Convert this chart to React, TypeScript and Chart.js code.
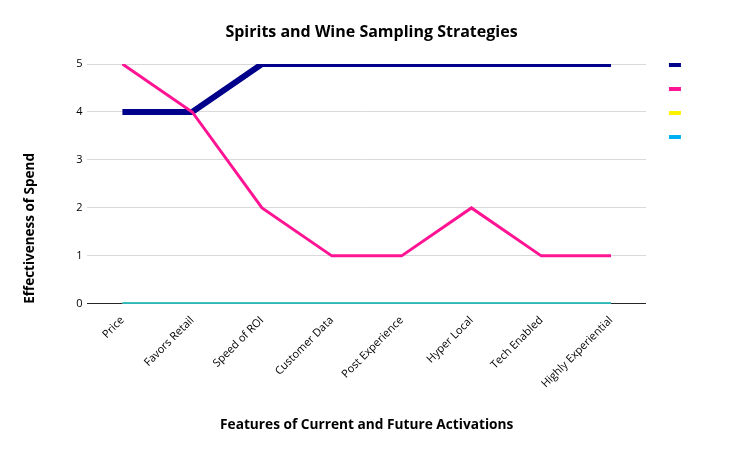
import React, { useEffect, useRef } from "react";
import { Chart, registerables } from "chart.js";

Chart.register(...registerables);

const categories = [
  "Price",
  "Favors Retail",
  "Speed of ROI",
  "Customer Data",
  "Post Experience",
  "Hyper Local",
  "Tech Enabled",
  "Highly Experiential",
];
const seriesNavy = [4, 4, 5, 5, 5, 5, 5, 5];
const seriesPink = [5, 4, 2, 1, 1, 2, 1, 1];
const seriesYellow = [0, 0, 0, 0, 0, 0, 0, 0];
const seriesCyan = [0, 0, 0, 0, 0, 0, 0, 0];
const yTicks = [0, 1, 2, 3, 4, 5];

const FONT = "'Open Sans', 'Liberation Sans', sans-serif";
const LEGEND_TEXT = "         ";

export default function App() {
  const ref = useRef<HTMLCanvasElement | null>(null);
  useEffect(() => {
    if (!ref.current) return;
    const chart = new Chart(ref.current, {
      type: "line",
      data: {
        labels: categories,
        datasets: [
          { label: "", data: seriesNavy, borderColor: "#00008B", backgroundColor: "#00008B", borderWidth: 6, order: 4, yAxisID: "y" },
          { label: "", data: seriesPink, borderColor: "#FF1493", backgroundColor: "#FF1493", borderWidth: 3, order: 3, yAxisID: "y" },
          { label: "", data: seriesYellow, borderColor: "#FFF200", backgroundColor: "#FFF200", borderWidth: 3, order: 2, yAxisID: "y" },
          { label: "", data: seriesCyan, borderColor: "#00B0F0", backgroundColor: "#00B0F0", borderWidth: 3, order: 1, yAxisID: "y" },
        ],
      },
      options: {
        animation: false,
        responsive: false,
        maintainAspectRatio: false,
        elements: {
          point: { radius: 0, hoverRadius: 0 },
          line: { tension: 0, borderCapStyle: "butt", borderJoinStyle: "miter" },
        },
        layout: { padding: { left: 18, right: 12, top: 0, bottom: 23 } },
        plugins: {
          title: {
            display: true,
            text: "Spirits and Wine Sampling Strategies",
            color: "#000",
            font: { family: FONT, size: 16, weight: "bold" },
            padding: { top: 22.4, bottom: 22.4 },
          },
          legend: {
            display: true,
            position: "right",
            align: "start",
            title: { display: true, text: "", font: { size: 10, lineHeight: 1 }, padding: { top: 37, bottom: 0 } },
            labels: {
              boxWidth: 12,
              boxHeight: 4,
              padding: 12,
              color: "#000",
              font: { family: FONT, size: 12 },
              sort: (a: any, b: any) => a.datasetIndex - b.datasetIndex,
              generateLabels: (c: any) =>
                c.data.datasets.map((d: any, i: number) => ({
                  text: LEGEND_TEXT,
                  fillStyle: d.borderColor,
                  strokeStyle: d.borderColor,
                  lineWidth: 0,
                  datasetIndex: i,
                  hidden: false,
                })),
            },
          },
          tooltip: { enabled: false },
        },
        scales: {
          x: {
            offset: true,
            grid: { display: false },
            border: { display: true, color: "#262626", width: 1 },
            ticks: {
              color: "#000",
              font: { family: FONT, size: 11 },
              minRotation: 45,
              maxRotation: 45,
              autoSkip: false,
              padding: 2,
            },
            title: {
              display: true,
              text: "Features of Current and Future Activations",
              color: "#000",
              font: { family: FONT, size: 13.7, weight: "bold" },
              padding: { top: 24, bottom: 0 },
            },
          },
          y: {
            min: yTicks[0],
            max: yTicks[yTicks.length - 1],
            grid: { color: "#D9D9D9", drawTicks: false },
            border: { display: false },
            ticks: {
              stepSize: 1,
              color: "#000",
              font: { family: FONT, size: 11 },
              padding: 5,
            },
            title: {
              display: true,
              align: "start",
              text: "Effectiveness of Spend",
              color: "#000",
              font: { family: FONT, size: 13.5, weight: "bold" },
              padding: { top: 4, bottom: 33 },
            },
          },
          yR: {
            type: "linear",
            position: "right",
            display: true,
            grid: { display: false },
            border: { display: false },
            ticks: { display: false },
            afterFit: (s: any) => {
              s.width = 11;
            },
          },
        },
      },
    });
    return () => chart.destroy();
  }, []);
  return (
    <div style={{ position: "absolute", left: 0, top: 0, width: 737, height: 456, background: "#fff" }}>
      <canvas ref={ref} width={737} height={456} style={{ width: 737, height: 456 }} />
    </div>
  );
}
